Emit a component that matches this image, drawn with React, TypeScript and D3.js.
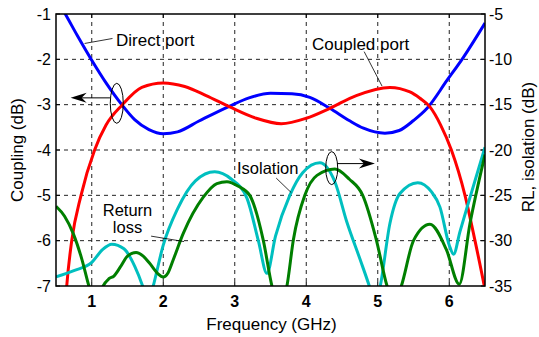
import React from 'react';
import * as d3 from 'd3';

const W = 539;
const H = 337;
const PL = 56, PR = 485, PT = 14, PB = 286;

const xTicks = [1, 2, 3, 4, 5, 6];
const leftTicks = [-1, -2, -3, -4, -5, -6, -7];
const rightTicks = [-5, -10, -15, -20, -25, -30, -35];

// Direct port (left axis, dB)
const directF = [0.5, 0.63, 0.8, 1.0, 1.2, 1.42, 1.6, 1.8, 2.0, 2.2, 2.5, 2.93, 3.2, 3.5, 3.8, 4.05, 4.33, 4.6, 4.8, 5.1, 5.3, 5.5, 5.69, 5.97, 6.2, 6.5];
const directDB = [-0.65, -1.0, -1.48, -2.02, -2.52, -3.0, -3.33, -3.55, -3.64, -3.6, -3.36, -3.03, -2.85, -2.75, -2.76, -2.84, -3.08, -3.35, -3.52, -3.63, -3.57, -3.35, -3.08, -2.46, -1.95, -1.2];

// Coupled port (left axis, dB)
const coupledF = [0.6, 0.65, 0.72, 0.85, 1.04, 1.2, 1.43, 1.7, 2.0, 2.3, 2.6, 2.93, 3.3, 3.65, 4.0, 4.33, 4.7, 5.17, 5.45, 5.59, 5.73, 5.88, 6.03, 6.22, 6.36, 6.49, 6.55];
const coupledDB = [-8.2, -7.0, -6.0, -5.0, -4.0, -3.45, -3.0, -2.62, -2.52, -2.6, -2.8, -3.05, -3.3, -3.42, -3.3, -3.08, -2.8, -2.62, -2.72, -2.86, -3.05, -3.45, -4.0, -5.0, -6.0, -7.0, -7.5];

// Isolation (right axis, dB)
const isoF = [0.5, 0.75, 1.0, 1.15, 1.28, 1.45, 1.6, 1.72, 1.79, 1.86, 2.0, 2.2, 2.45, 2.72, 2.95, 3.17, 3.33, 3.45, 3.57, 3.77, 3.95, 4.19, 4.4, 4.57, 4.75, 4.89, 4.96, 5.03, 5.17, 5.31, 5.56, 5.75, 5.87, 6.0, 6.06, 6.15, 6.25, 6.5];
const isoDB = [-34.0, -33.3, -32.4, -31.0, -30.4, -30.9, -32.8, -35.2, -37.0, -35.0, -30.5, -26.5, -23.4, -22.4, -23.2, -25.3, -30.0, -33.6, -29.5, -25.0, -22.5, -21.4, -23.5, -28.0, -32.0, -35.2, -37.0, -35.2, -28.1, -24.8, -23.6, -24.6, -26.3, -30.5, -31.5, -29.0, -26.3, -19.7];

// Return loss (right axis, dB)
const rlF = [0.5, 0.62, 0.74, 0.86, 0.96, 1.06, 1.16, 1.24, 1.31, 1.4, 1.5, 1.62, 1.72, 1.81, 1.92, 2.0, 2.07, 2.14, 2.28, 2.56, 2.75, 2.89, 3.05, 3.21, 3.4, 3.52, 3.62, 3.73, 3.82, 3.98, 4.15, 4.4, 4.6, 4.79, 4.98, 5.13, 5.23, 5.33, 5.5, 5.73, 5.96, 6.14, 6.29, 6.5];
const rlDB = [-26.2, -27.3, -29.2, -32.0, -35.0, -37.5, -35.0, -34.2, -33.9, -32.9, -31.7, -31.3, -31.7, -32.5, -33.6, -34.0, -33.5, -32.1, -29.2, -25.2, -23.7, -23.5, -24.0, -25.0, -30.0, -35.0, -37.5, -35.0, -29.9, -25.0, -22.8, -22.1, -23.2, -25.0, -29.9, -35.0, -37.0, -35.0, -30.0, -28.2, -31.0, -34.8, -28.1, -20.5];

const FONT = "'Liberation Sans', Arial, Helvetica, sans-serif";

export default function App() {
  const x = d3.scaleLinear().domain([0.5, 6.5]).range([PL, PR]);
  const yL = d3.scaleLinear().domain([-7, -1]).range([PB, PT]);
  const yR = d3.scaleLinear().domain([-35, -5]).range([PB, PT]);

  const mk = (fs: number[], vs: number[], y: d3.ScaleLinear<number, number>) =>
    d3.line<number>().x((_, i) => x(fs[i])).y((v) => y(v)).curve(d3.curveMonotoneX)(vs) || '';

  const grid = '#222';
  const dash = '4,4';

  const a1y = yL(-2.85);
  const a1x = x(0.705);
  const a2y = yR(-21.5);
  const a2x = x(4.96);

  return (
    <svg width={W} height={H} style={{ position: 'absolute', left: 0, top: 0, background: '#fff' }} fontFamily={FONT}>
      <defs>
        <clipPath id="plot">
          <rect x={PL} y={PT} width={PR - PL} height={PB - PT} />
        </clipPath>
      </defs>
      {/* grid */}
      {xTicks.map((t) => (
        <line key={'gx' + t} x1={x(t)} x2={x(t)} y1={PT} y2={PB} stroke={grid} strokeWidth={1} strokeDasharray={dash} />
      ))}
      {leftTicks.slice(1, -1).map((t) => (
        <line key={'gy' + t} x1={PL} x2={PR} y1={yL(t)} y2={yL(t)} stroke={grid} strokeWidth={1} strokeDasharray={dash} />
      ))}
      {/* ticks */}
      {xTicks.map((t) => (
        <g key={'tx' + t}>
          <line x1={x(t)} x2={x(t)} y1={PB} y2={PB - 4} stroke="#000" />
          <line x1={x(t)} x2={x(t)} y1={PT} y2={PT + 4} stroke="#000" />
          <text x={x(t)} y={307} textAnchor="middle" fontSize={16} fontWeight="bold">{t}</text>
        </g>
      ))}
      {leftTicks.map((t) => (
        <g key={'tl' + t}>
          <line x1={PL} x2={PL + 4} y1={yL(t)} y2={yL(t)} stroke="#000" />
          <text x={51} y={yL(t) + 5.5} textAnchor="end" fontSize={16}>{t}</text>
        </g>
      ))}
      {rightTicks.map((t) => (
        <g key={'tr' + t}>
          <line x1={PR - 4} x2={PR} y1={yR(t)} y2={yR(t)} stroke="#000" />
          <text x={489} y={yR(t) + 5.5} textAnchor="start" fontSize={16}>{t}</text>
        </g>
      ))}
      {/* curves */}
      <g clipPath="url(#plot)" fill="none" strokeWidth={3} strokeLinejoin="round">
        <path d={mk(directF, directDB, yL)} stroke="#0000ff" />
        <path d={mk(coupledF, coupledDB, yL)} stroke="#ff0000" />
        <path d={mk(isoF, isoDB, yR)} stroke="#00bfbf" />
        <path d={mk(rlF, rlDB, yR)} stroke="#007f00" />
      </g>
      {/* frame */}
      <rect x={PL} y={PT} width={PR - PL} height={PB - PT} fill="none" stroke="#000" strokeWidth={1.5} />

      {/* annotations */}
      <line x1={x(0.9)} y1={yL(-1.65)} x2={x(1.29)} y2={yL(-1.54)} stroke="#000" strokeWidth={0.8} />
      <text x={116} y={46} fontSize={17}>Direct port</text>

      <line x1={x(4.81)} y1={yL(-1.83)} x2={x(5.06)} y2={yL(-2.59)} stroke="#000" strokeWidth={0.8} />
      <text x={312} y={50} fontSize={17}>Coupled port</text>

      <text x={127.5} y={216} fontSize={16.5} textAnchor="middle">Return</text>
      <text x={127.5} y={233} fontSize={16.5} textAnchor="middle">loss</text>
      <line x1={x(1.83)} y1={yR(-29.5)} x2={x(2.29)} y2={yR(-30.1)} stroke="#000" strokeWidth={0.8} />

      <text x={237} y={174} fontSize={16.5}>Isolation</text>
      <line x1={x(3.58)} y1={yR(-23.1)} x2={x(3.79)} y2={yR(-24.7)} stroke="#000" strokeWidth={0.8} />

      {/* ellipse + arrow left */}
      <ellipse cx={x(1.35)} cy={yL(-2.97)} rx={6.5} ry={20} fill="none" stroke="#000" strokeWidth={1} />
      <line x1={x(1.255)} y1={a1y} x2={a1x + 10} y2={a1y} stroke="#000" strokeWidth={1} />
      <path d={`M${a1x},${a1y} L${a1x + 16},${a1y - 5} L${a1x + 11},${a1y} L${a1x + 16},${a1y + 5} Z`} fill="#000" />

      {/* ellipse + arrow right */}
      <ellipse cx={x(4.356)} cy={yR(-22.0)} rx={6} ry={16.5} fill="none" stroke="#000" strokeWidth={1} />
      <line x1={x(4.43)} y1={a2y} x2={a2x - 10} y2={a2y} stroke="#000" strokeWidth={1} />
      <path d={`M${a2x},${a2y} L${a2x - 16},${a2y - 5} L${a2x - 11},${a2y} L${a2x - 16},${a2y + 5} Z`} fill="#000" />

      {/* axis titles */}
      <text transform={`translate(23,${(PT + PB) / 2}) rotate(-90)`} textAnchor="middle" fontSize={17}>Coupling (dB)</text>
      <text transform={`translate(534,${(PT + PB) / 2 - 3}) rotate(-90)`} textAnchor="middle" fontSize={17}>RL, isolation (dB)</text>
      <text x={(PL + PR) / 2 + 1} y={330} textAnchor="middle" fontSize={17}>Frequency (GHz)</text>
    </svg>
  );
}
